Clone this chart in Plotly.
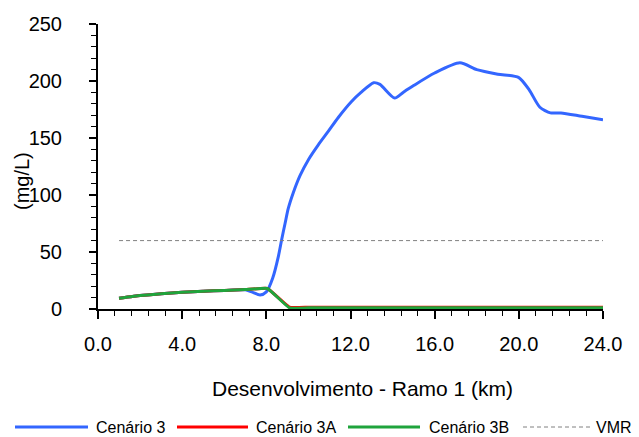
import plotly.graph_objects as go

# Distance (km) and concentration (mg/L)
x_c3 = [1, 2, 3, 4, 5, 6, 7, 7.3, 7.7, 8.0, 8.3, 8.57, 8.73, 8.89, 9.04, 9.28, 9.6, 10.0, 10.47,
        10.95, 11.42, 12.05, 12.5, 13.1, 13.4, 14.1, 14.5, 15, 16, 17.2, 18, 19, 20, 20.5, 21,
        21.5, 22, 23, 24]
y_c3 = [9.4, 11.8, 13.3, 14.6, 15.5, 16.3, 16.8, 15, 12.3, 15, 27, 46, 61, 75, 88, 102, 117, 131, 144,
        156, 168, 182, 190, 198.5, 197, 185, 190, 196, 207, 216, 210, 206, 203, 192, 177,
        172, 172, 169, 166]

x_c3a = [1, 2, 3, 4, 5, 6, 7, 8.05, 9.1, 10, 12, 14, 16, 18, 20, 22, 24]
y_c3a = [9.4, 11.8, 13.3, 14.6, 15.5, 16.3, 17.0, 18.0, 1.6, 1.6, 1.6, 1.6, 1.6, 1.6, 1.6, 1.6, 1.6]

x_c3b = [1, 2, 3, 4, 5, 6, 7, 8.05, 9.1, 10, 12, 14, 16, 18, 20, 22, 24]
y_c3b = [9.4, 11.8, 13.3, 14.6, 15.5, 16.3, 17.0, 18.0, 1.0, 1.0, 1.0, 1.0, 1.0, 1.0, 1.0, 1.0, 1.0]

x_vmr = [1, 24]
y_vmr = [60, 60]

x_ticks = [0, 4, 8, 12, 16, 20, 24]
x_ticklabels = ["0.0", "4.0", "8.0", "12.0", "16.0", "20.0", "24.0"]

series_names = ["Cenário 3", "Cenário 3A", "Cenário 3B", "VMR"]
series_colors = ["#3366FF", "#FF0000", "#1FA43C", "#808080"]

FONT = "Liberation Sans, Arial, sans-serif"

# plot-area geometry in pixels (for converting legend placement to paper coords)
PL, PR, PT, PB = 98, 603, 24, 309
def px(xp):
    return (xp - PL) / (PR - PL)
def py(yp):
    return (PB - yp) / (PB - PT)

fig = go.Figure()
fig.add_trace(go.Scatter(x=x_c3, y=y_c3, mode="lines", name=series_names[0], showlegend=False,
                         line=dict(color=series_colors[0], width=3, shape="spline", smoothing=0.7)))
fig.add_trace(go.Scatter(x=x_c3a, y=y_c3a, mode="lines", name=series_names[1], showlegend=False,
                         line=dict(color=series_colors[1], width=3, shape="spline", smoothing=0.3)))
fig.add_trace(go.Scatter(x=x_c3b, y=y_c3b, mode="lines", name=series_names[2], showlegend=False,
                         line=dict(color=series_colors[2], width=3, shape="spline", smoothing=0.3)))
fig.add_trace(go.Scatter(x=x_vmr, y=y_vmr, mode="lines", name=series_names[3], showlegend=False,
                         line=dict(color=series_colors[3], width=1, dash="4px,3px")))

# manual legend (line samples + labels) along the bottom
legend_lines = [(15, 88), (177, 248), (348, 420), (523, 590)]
legend_text_x = [95, 255, 428, 595]
LEG_Y = 427
shapes = []
annotations = []
for i, name in enumerate(series_names):
    x0, x1 = legend_lines[i]
    shapes.append(dict(type="line", xref="paper", yref="paper",
                       x0=px(x0), x1=px(x1), y0=py(LEG_Y), y1=py(LEG_Y),
                       line=dict(color=series_colors[i], width=1 if i == 3 else 3,
                                 dash="4px,3px" if i == 3 else "solid")))
    annotations.append(dict(text=name, xref="paper", yref="paper",
                            x=px(legend_text_x[i]), y=py(LEG_Y), xanchor="left", yanchor="middle",
                            borderpad=0, showarrow=False, font=dict(size=16, color="black")))

annotations.append(dict(text="Desenvolvimento - Ramo 1 (km)", xref="paper", yref="paper",
                        x=px(362), y=py(388), xanchor="center", yanchor="middle",
                        showarrow=False, font=dict(size=21)))
annotations.append(dict(text="(mg/L)", xref="paper", yref="paper", textangle=-90,
                        x=px(22), y=py(181), xanchor="center", yanchor="middle",
                        showarrow=False, font=dict(size=20)))

fig.update_layout(
    width=639, height=437,
    margin=dict(l=PL, r=639 - PR, t=PT, b=437 - PB, autoexpand=False),
    paper_bgcolor="white", plot_bgcolor="white",
    font=dict(family=FONT, size=20, color="black"),
    showlegend=False,
    xaxis=dict(range=[0, 24], showgrid=False, zeroline=False,
               showline=True, linecolor="black", linewidth=2,
               tickmode="array", tickvals=x_ticks, ticktext=x_ticklabels,
               ticks="outside", ticklen=8, tickwidth=2, tickcolor="black",
               ticklabelstandoff=8,
               minor=dict(dtick=0.8, tick0=0, ticks="outside", ticklen=5, tickwidth=1,
                          tickcolor="black", showgrid=False)),
    yaxis=dict(range=[0, 250], showgrid=False, zeroline=False,
               showline=True, linecolor="black", linewidth=2,
               dtick=50, tick0=0,
               ticks="outside", ticklen=7, tickwidth=2, tickcolor="black",
               ticklabelstandoff=23,
               minor=dict(dtick=10, tick0=0, ticks="outside", ticklen=5, tickwidth=1,
                          tickcolor="black", showgrid=False)),
    shapes=shapes,
    annotations=annotations,
)

fig.write_html("out.html",
               config={"displayModeBar": False},
               post_script="document.body.style.margin='0';document.body.style.overflow='hidden';")
